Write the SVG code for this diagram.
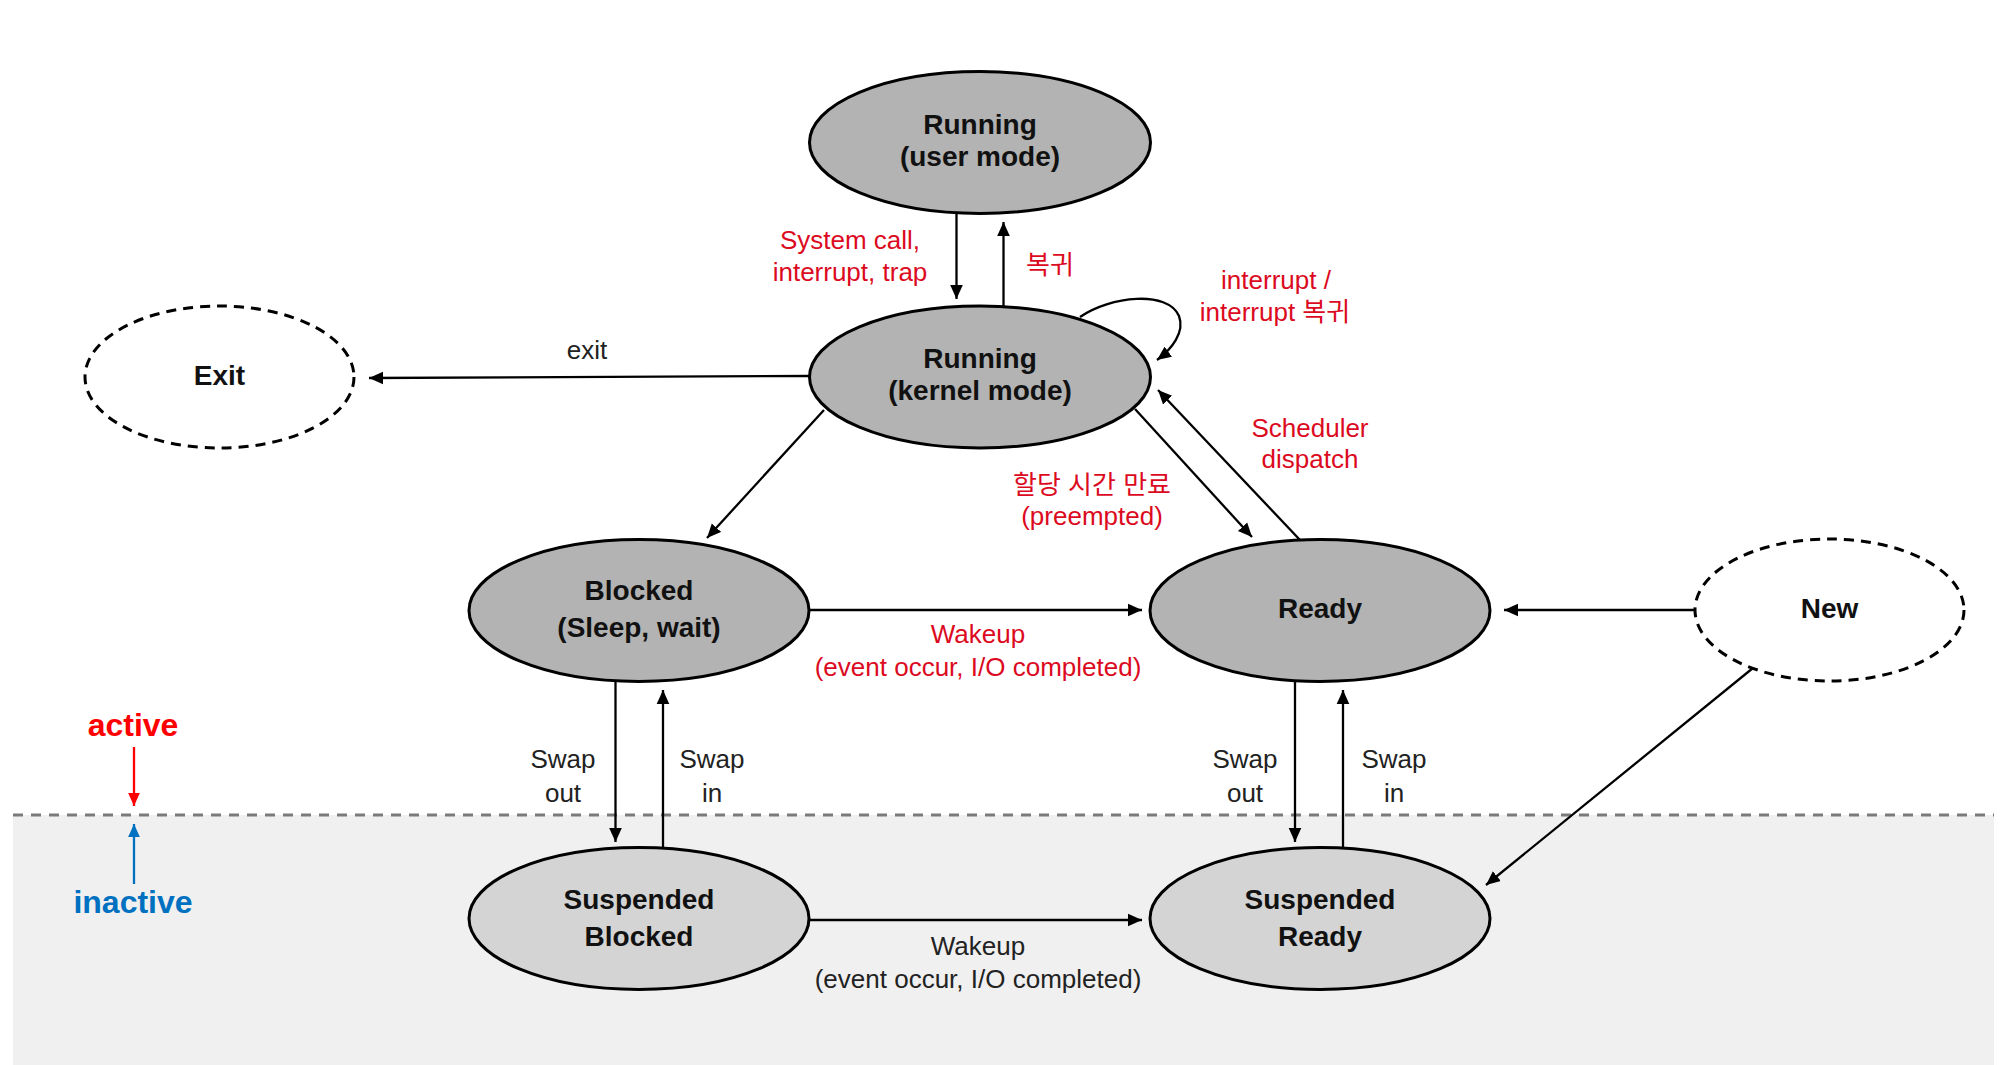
<svg xmlns="http://www.w3.org/2000/svg" width="2000" height="1065" viewBox="0 0 2000 1065">
<style>
text{font-family:"Liberation Sans","Noto Sans CJK KR",sans-serif;text-anchor:middle}
.nt{font-size:28px;font-weight:bold;fill:#111}
.lb{font-size:26px;fill:#222}
.rd{font-size:26px;fill:#dc0a1e}
.st{fill:#b3b3b3;stroke:#000;stroke-width:3}
.ss{fill:#d4d4d4;stroke:#000;stroke-width:3}
.dn{fill:#fff;stroke:#000;stroke-width:3;stroke-dasharray:10 7}
.cn{fill:none;stroke:#000;stroke-width:2.3}
</style>
<defs>
<marker id="ah" viewBox="0 0 10 10" refX="10" refY="5" markerWidth="14" markerHeight="14" markerUnits="userSpaceOnUse" orient="auto"><path d="M0,0.5 L10,5 L0,9.5 z" fill="#000"/></marker>
<marker id="ahr" viewBox="0 0 10 10" refX="10" refY="5" markerWidth="13" markerHeight="13" markerUnits="userSpaceOnUse" orient="auto"><path d="M0,0.5 L10,5 L0,9.5 z" fill="#ff0000"/></marker>
<marker id="ahb" viewBox="0 0 10 10" refX="10" refY="5" markerWidth="13" markerHeight="13" markerUnits="userSpaceOnUse" orient="auto"><path d="M0,0.5 L10,5 L0,9.5 z" fill="#0070c0"/></marker>
</defs>
<rect x="13" y="815" width="1981" height="250" fill="#f0f0f0"/>
<line x1="13" y1="815" x2="1994" y2="815" stroke="#7a7a7a" stroke-width="3" stroke-dasharray="10 8"/>
<g id="legend">
<text x="133" y="736" style="font-size:32px;font-weight:bold;fill:#ff0000">active</text>
<line x1="134" y1="747" x2="134" y2="806" stroke="#ff0000" stroke-width="2.3" marker-end="url(#ahr)"/>
<line x1="134" y1="884" x2="134" y2="824" stroke="#0070c0" stroke-width="2.3" marker-end="url(#ahb)"/>
<text x="133" y="913" style="font-size:32px;font-weight:bold;fill:#0070c0">inactive</text>
</g>
<g id="connectors">
<line class="cn" x1="956.5" y1="214" x2="956.5" y2="299" marker-end="url(#ah)"/>
<line class="cn" x1="1003.5" y1="306" x2="1003.5" y2="222" marker-end="url(#ah)"/>
<path class="cn" d="M1080,317 C1110,296 1168,290 1179,316 C1185,332 1172,349 1157,360" marker-end="url(#ah)"/>
<line class="cn" x1="809" y1="376" x2="369" y2="378" marker-end="url(#ah)"/>
<line class="cn" x1="824" y1="410" x2="707" y2="538" marker-end="url(#ah)"/>
<line class="cn" x1="1135" y1="409" x2="1252" y2="537" marker-end="url(#ah)"/>
<line class="cn" x1="1300" y1="540" x2="1158" y2="390" marker-end="url(#ah)"/>
<line class="cn" x1="809" y1="610" x2="1142" y2="610" marker-end="url(#ah)"/>
<line class="cn" x1="1695" y1="610" x2="1504" y2="610" marker-end="url(#ah)"/>
<line class="cn" x1="1753" y1="668" x2="1486" y2="885" marker-end="url(#ah)"/>
<line class="cn" x1="615.5" y1="682" x2="615.5" y2="842" marker-end="url(#ah)"/>
<line class="cn" x1="663" y1="849" x2="663" y2="690" marker-end="url(#ah)"/>
<line class="cn" x1="1295" y1="682" x2="1295" y2="842" marker-end="url(#ah)"/>
<line class="cn" x1="1343" y1="849" x2="1343" y2="690" marker-end="url(#ah)"/>
<line class="cn" x1="809" y1="920" x2="1142" y2="920" marker-end="url(#ah)"/>
<text class="rd" x="850" y="249">System call,</text>
<text class="rd" x="850" y="281">interrupt, trap</text>
<text class="rd" x="1050" y="274">복귀</text>
<text class="rd" x="1276" y="289">interrupt /</text>
<text class="rd" x="1275" y="321">interrupt 복귀</text>
<text class="lb" x="587" y="359">exit</text>
<text class="rd" x="1310" y="437">Scheduler</text>
<text class="rd" x="1310" y="468">dispatch</text>
<text class="rd" x="1092" y="494">할당 시간 만료</text>
<text class="rd" x="1092" y="525">(preempted)</text>
<text class="rd" x="978" y="643">Wakeup</text>
<text class="rd" x="978" y="676">(event occur, I/O completed)</text>
<text class="lb" x="978" y="955">Wakeup</text>
<text class="lb" x="978" y="988">(event occur, I/O completed)</text>
<text class="lb" x="563" y="768">Swap</text>
<text class="lb" x="563" y="802">out</text>
<text class="lb" x="712" y="768">Swap</text>
<text class="lb" x="712" y="802">in</text>
<text class="lb" x="1245" y="768">Swap</text>
<text class="lb" x="1245" y="802">out</text>
<text class="lb" x="1394" y="768">Swap</text>
<text class="lb" x="1394" y="802">in</text>
</g>
<g id="running-user"><ellipse class="st" cx="980" cy="142.5" rx="170.5" ry="71"/><text class="nt" x="980" y="134">Running</text><text class="nt" x="980" y="166">(user mode)</text></g>
<g id="running-kernel"><ellipse class="st" cx="980" cy="377" rx="170.5" ry="71"/><text class="nt" x="980" y="368">Running</text><text class="nt" x="980" y="400">(kernel mode)</text></g>
<g id="exit"><ellipse class="dn" cx="219.5" cy="377" rx="134.5" ry="71"/><text class="nt" x="219.5" y="385">Exit</text></g>
<g id="blocked"><ellipse class="st" cx="639" cy="610.5" rx="170" ry="71"/><text class="nt" x="639" y="600">Blocked</text><text class="nt" x="639" y="637">(Sleep, wait)</text></g>
<g id="ready"><ellipse class="st" cx="1320" cy="610.5" rx="170" ry="71"/><text class="nt" x="1320" y="618">Ready</text></g>
<g id="new"><ellipse class="dn" cx="1829.5" cy="610" rx="134.5" ry="71"/><text class="nt" x="1829.5" y="618">New</text></g>
<g id="suspended-blocked"><ellipse class="ss" cx="639" cy="918.5" rx="170" ry="71"/><text class="nt" x="639" y="909">Suspended</text><text class="nt" x="639" y="946">Blocked</text></g>
<g id="suspended-ready"><ellipse class="ss" cx="1320" cy="918.5" rx="170" ry="71"/><text class="nt" x="1320" y="909">Suspended</text><text class="nt" x="1320" y="946">Ready</text></g>
</svg>
